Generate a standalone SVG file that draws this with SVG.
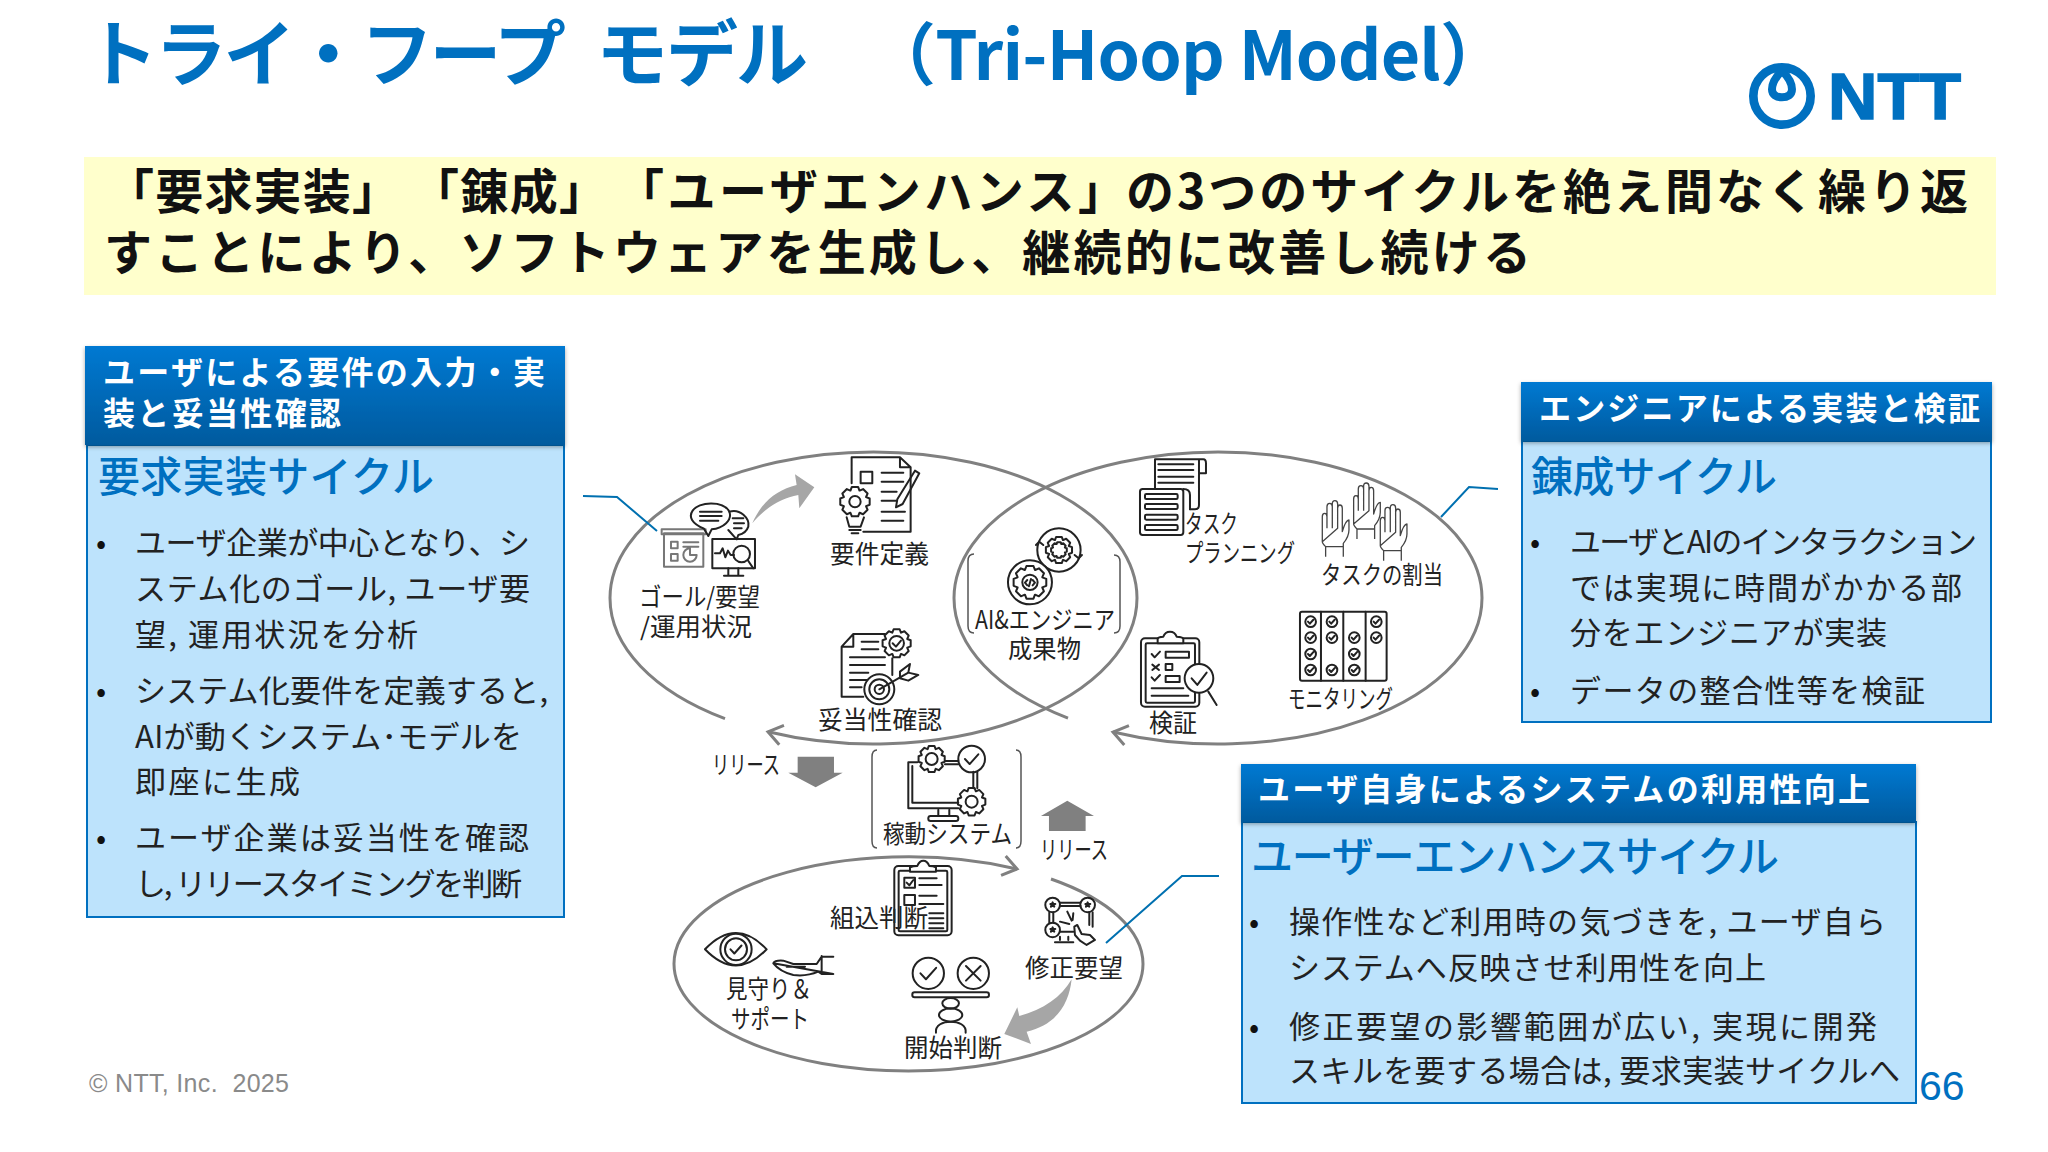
<svg xmlns="http://www.w3.org/2000/svg" width="2048" height="1152" viewBox="0 0 2048 1152">
<style>
text{font-family:"Noto Sans CJK JP","Noto Sans",sans-serif}
.t{font-weight:700;font-size:72px;fill:#0070C0}
.y{font-weight:700;font-size:48px;fill:#111}
.h{font-weight:700;font-size:32px;fill:#fff}
.c{font-weight:500;font-size:42px;fill:#0070C0}
.b{font-size:31px;fill:#222}
.d{font-size:30px;fill:#111}
.l{font-size:25px;fill:#222}
.body{fill:#BDE3FC;stroke:#0070C0;stroke-width:2}
.ell{fill:none;stroke:#808080;stroke-width:3}
.lead{fill:none;stroke:#0070B0;stroke-width:2}
.ic{fill:none;stroke:#222;stroke-width:2;stroke-linejoin:round;stroke-linecap:round}
.ic *{vector-effect:non-scaling-stroke}
.g1{fill:#808080}.g2{fill:#A6A6A6}
.br{fill:none;stroke:#555;stroke-width:1.5}
#gear,#ckc{fill:none;stroke:#222;stroke-width:2;vector-effect:non-scaling-stroke;stroke-linejoin:round}
#hand{fill:none;stroke:#444;stroke-width:1.3;vector-effect:non-scaling-stroke;stroke-linejoin:round}
</style>
<defs>
<linearGradient id="hg" x1="0" y1="0" x2="0" y2="1"><stop offset="0" stop-color="#0079D2"/><stop offset="1" stop-color="#005A9E"/></linearGradient>
<filter id="sh" x="-5%" y="-5%" width="110%" height="120%"><feDropShadow dx="0" dy="2" stdDeviation="2" flood-color="#000" flood-opacity=".35"/></filter>
<marker id="chev" markerUnits="userSpaceOnUse" markerWidth="30" markerHeight="30" refX="24" refY="15" orient="auto"><path d="M10 5L24 15L10 25" fill="none" stroke="#808080" stroke-width="3"/></marker>
<path id="gear" d="M-30-74L-21-98L21-98L30-74L31-74L54-84L84-54L74-31L74-30L98-21L98 21L74 30L74 31L84 54L54 84L31 74L30 74L21 98L-21 98L-30 74L-31 74L-54 84L-84 54L-74 31L-74 30L-98 21L-98-21L-74-30L-74-31L-84-54L-54-84L-31-74Z"/>
<path id="ckc" d="M0-100A100 100 0 1 1 0 100A100 100 0 1 1 0-100ZM-50 0L-15 38L50-35"/>
<path id="hand" d="M5 125V50Q5 40 12 40Q19 40 19 50V85M19 85V20Q19 10 27 10Q35 10 35 20V85M35 85V12Q35 2 43 2Q51 2 51 12V85M51 85V25Q51 15 58 15Q65 15 65 25V95Q75 60 85 60V90Q85 110 68 130V140H15Q5 130 5 125ZM15 140V170M68 140V170"/>
</defs>
<rect width="2048" height="1152" fill="#fff"/>

<g id="title">
<text class="t" x="86" y="80" textLength="480">トライ・フープ</text>
<text class="t" x="596" y="80" textLength="212">モデル</text>
<text class="t" x="868" y="80" textLength="640" style="font-size:68px">（Tri-Hoop Model）</text>
</g>
<g id="logo" transform="translate(1700,40) scale(.3333)">
<circle cx="246" cy="168" r="86" fill="none" stroke="#0070C0" stroke-width="26"/>
<path d="M246 92C226 112 216 130 216 148C216 165 230 172 246 172C262 172 276 165 276 148C276 130 266 112 246 92Z" fill="none" stroke="#0070C0" stroke-width="24"/>
</g>
<text id="logotext" x="1828" y="119" style="font-family:'Liberation Sans',sans-serif;font-weight:700;font-size:64px;fill:#0070C0;stroke:#0070C0;stroke-width:1.5" textLength="133" lengthAdjust="spacingAndGlyphs">NTT</text>

<g id="banner">
<rect x="84" y="157" width="1912" height="138" fill="#FFFFCC"/>
<text class="y" x="106" y="209" textLength="294">「要求実装」</text>
<text class="y" x="411" y="209" textLength="196">「錬成」</text>
<text class="y" x="616" y="209" textLength="510">「ユーザエンハンス」</text>
<text class="y" x="1126" y="209" textLength="842">の3つのサイクルを絶え間なく繰り返</text>
<text class="y" x="104" y="270" textLength="1427">すことにより、ソフトウェアを生成し、継続的に改善し続ける</text>
</g>

<g id="connectors">
<path class="ell" marker-end="url(#chev)" d="M725 718.6A263.5 146 0 0 1 610 598A263.5 146 0 0 1 1137 598A263.5 146 0 0 1 768 731.8"/>
<path class="ell" marker-end="url(#chev)" d="M1068 718.1A264 146 0 0 1 954 598A264 146 0 0 1 1482 598A264 146 0 0 1 1113 732"/>
<path class="ell" marker-end="url(#chev)" d="M1051 879A234.5 107 0 0 1 1143 964A234.5 107 0 0 1 674 964A234.5 107 0 0 1 1017 869"/>
<polyline class="lead" points="583,496 617,497 657,531"/>
<polyline class="lead" points="1441,517 1469,487 1498,489"/>
<polyline class="lead" points="1106,943 1182,876 1219,876"/>
<path class="g2" transform="translate(580,430) scale(.3333)" d="M517 280C545 215 590 180 650 165L645 133L703 172L658 235L655 195C600 205 555 235 517 280Z"/>
<path class="g2" transform="translate(660,730) scale(.3333)" d="M1235 748C1228 820 1190 885 1100 905L1113 942L1033 912L1072 832L1078 858C1150 840 1205 800 1235 748Z"/>
<path class="g1" transform="translate(660,730) scale(.3333)" d="M413 80H522V128H548L467 172L385 128H413Z"/>
<path class="g1" transform="translate(660,730) scale(.3333)" d="M1222 212L1302 258H1277V303H1167V258H1143Z"/>
<text class="l" x="712" y="774" textLength="68" lengthAdjust="spacingAndGlyphs">リリース</text>
<text class="l" x="1040" y="859" textLength="68" lengthAdjust="spacingAndGlyphs">リリース</text>
</g>

<g id="n-goal">
<g class="ic" transform="translate(580,430) scale(.3333)">
<g stroke="#777"><rect x="252" y="310" width="118" height="100"/><rect x="245" y="298" width="132" height="15"/><rect x="273" y="335" width="20" height="20"/><rect x="273" y="372" width="20" height="20"/><path d="M310 337H355M310 350H355M330 355A20 20 0 1 0 350 375H330Z"/></g>
<rect x="397" y="327" width="128" height="88"/><path d="M405 370L420 370L428 355L436 382L444 362L452 375H462M445 415V435M475 415V435M432 437H490"/>
<circle cx="485" cy="372" r="25"/><path d="M503 390L520 415"/>
<path d="M372 296C335 280 325 260 338 242C355 215 430 210 448 245C458 270 430 295 395 298L385 318Z"/><path d="M360 245H425M360 258H425M360 272H415"/>
<path d="M448 245C480 235 510 265 505 290C500 305 490 312 475 315L470 328L445 300"/><path d="M458 265H490M462 280H492M462 295H485"/>
</g>
<text class="l" x="639" y="606" textLength="121" lengthAdjust="spacingAndGlyphs">ゴール/要望</text>
<text class="l" x="640" y="636" textLength="112" lengthAdjust="spacingAndGlyphs">/運用状況</text>
</g>

<g id="n-req">
<g class="ic" transform="translate(580,430) scale(.3333)">
<path d="M815 160V82H960L992 112V305H850M960 82V112H992"/>
<rect x="842" y="125" width="35" height="35"/><path d="M905 128H970M905 155H970M905 185H950M905 212H950M905 245H975M905 272H970"/>
<path d="M1005 122L1018 130L968 222L948 232L952 208Z"/>
<use href="#gear" transform="translate(825,215) scale(.45)"/><circle cx="825" cy="215" r="17"/>
<path d="M800 262L808 290H842L852 262M808 300H842M815 310H835"/>
</g>
<text class="l" x="830" y="563" textLength="99" lengthAdjust="spacingAndGlyphs">要件定義</text>
</g>

<g id="n-valid">
<g class="ic" transform="translate(580,430) scale(.3333)">
<path d="M850 800H785V650L820 612H915M820 612V650H785"/>
<path d="M845 635H895M845 658H895M810 682H915M810 705H915M810 728H865M810 750H860M810 772H845M937 685V735"/>
<use href="#gear" transform="translate(950,640) scale(.43)"/><circle cx="950" cy="640" r="22"/><path d="M938 640L948 650L963 632"/>
<circle cx="898" cy="778" r="45"/><circle cx="898" cy="778" r="30"/><circle cx="898" cy="778" r="14"/>
<path d="M898 778L985 728M960 725L990 702L985 728L1015 735L985 752L960 745Z"/>
</g>
<text class="l" x="818" y="729" textLength="124" lengthAdjust="spacingAndGlyphs">妥当性確認</text>
</g>

<g id="n-ai">
<g class="ic" transform="translate(580,430) scale(.3333)">
<circle cx="1437" cy="360" r="65"/>
<use href="#gear" transform="translate(1437,360) scale(.4)"/><use href="#gear" transform="translate(1437,360) scale(.24)"/>
<path d="M1368 345L1378 335L1390 345M1506 375L1496 385L1484 375"/>
<circle cx="1350" cy="457" r="66" fill="#fff"/>
<use href="#gear" transform="translate(1350,457) scale(.5)"/><circle cx="1350" cy="457" r="23"/><path d="M1342 450L1335 458L1342 466M1358 450L1365 458L1358 466M1353 447L1347 469"/>
</g>
<path class="br" d="M974 554Q968 554 968 561V626Q968 633 974 633M1114 555Q1120 555 1120 562V626Q1120 633 1114 633"/>
<text class="l" x="975" y="629" textLength="140" lengthAdjust="spacingAndGlyphs">AI&amp;エンジニア</text>
<text class="l" x="1008" y="658" textLength="73" lengthAdjust="spacingAndGlyphs">成果物</text>
</g>

<g id="n-plan">
<g class="ic" transform="translate(1000,430) scale(.3333)">
<path d="M465 175V88H610Q618 88 618 100V130H597V225Q597 238 585 238H570M597 90V130"/><path d="M475 103H580M475 120H580M475 140H580M475 158H580"/>
<rect x="420" y="177" width="130" height="138" rx="8"/><rect x="435" y="192" width="98" height="15" rx="4"/><rect x="435" y="222" width="98" height="15" rx="4"/><rect x="435" y="254" width="98" height="15" rx="4"/><rect x="435" y="285" width="98" height="15" rx="4"/>
<path d="M550 177Q570 177 570 195V238"/>
</g>
<text class="l" x="1185" y="533" textLength="53" lengthAdjust="spacingAndGlyphs">タスク</text>
<text class="l" x="1185" y="562" textLength="110" lengthAdjust="spacingAndGlyphs">プランニング</text>
</g>

<g id="n-assign">
<g transform="translate(1000,430) scale(.3333)">
<use href="#hand" transform="translate(962,210)"/><use href="#hand" transform="translate(1056,157)"/><use href="#hand" transform="translate(1136,222)"/>
</g>
<text class="l" x="1321" y="584" textLength="122" lengthAdjust="spacingAndGlyphs">タスクの割当</text>
</g>

<g id="n-monitor">
<g class="ic" transform="translate(1000,430) scale(.3333)">
<rect x="900" y="545" width="260" height="207" rx="6"/><path d="M963 545V752M1030 545V752M1097 545V752"/>
<use href="#ckc" transform="translate(932,575) scale(.16)"/><use href="#ckc" transform="translate(932,623) scale(.16)"/><use href="#ckc" transform="translate(932,672) scale(.16)"/><use href="#ckc" transform="translate(932,720) scale(.16)"/>
<use href="#ckc" transform="translate(996,575) scale(.16)"/><use href="#ckc" transform="translate(996,623) scale(.16)"/><use href="#ckc" transform="translate(996,720) scale(.16)"/>
<use href="#ckc" transform="translate(1063,623) scale(.16)"/><use href="#ckc" transform="translate(1063,672) scale(.16)"/><use href="#ckc" transform="translate(1063,720) scale(.16)"/>
<use href="#ckc" transform="translate(1129,575) scale(.16)"/><use href="#ckc" transform="translate(1129,623) scale(.16)"/>
</g>
<text class="l" x="1288" y="708" textLength="105" lengthAdjust="spacingAndGlyphs">モニタリング</text>
</g>

<g id="n-verify">
<g class="ic" transform="translate(1000,430) scale(.3333)">
<rect x="423" y="625" width="175" height="205" rx="12"/><rect x="437" y="640" width="148" height="178" rx="4"/>
<path fill="#fff" d="M473 640V628Q473 620 490 620Q495 605 510 605Q525 605 530 620Q550 620 550 628V640Z"/>
<path d="M455 672L464 682L480 665M457 704L477 720M477 704L457 720M455 742L464 752L480 735M455 775H550M455 797H565"/>
<rect x="497" y="665" width="70" height="18"/><rect x="497" y="702" width="20" height="18"/><rect x="497" y="738" width="42" height="18"/>
<circle cx="597" cy="745" r="43" fill="#fff"/><path d="M575 745L592 765L620 728M625 785L650 825"/>
</g>
<text class="l" x="1149" y="732" textLength="48" lengthAdjust="spacingAndGlyphs">検証</text>
</g>

<g id="n-system">
<g class="ic" transform="translate(660,730) scale(.3333)">
<path d="M772 97H745V235H895M757 108V218H895M855 93H895M855 103H895M940 125V175M952 125V175M835 240V258M868 240V258"/>
<use href="#gear" transform="translate(815,87) scale(.4)"/><circle cx="815" cy="87" r="18"/>
<use href="#ckc" transform="translate(935,87) scale(.4)"/>
<use href="#gear" transform="translate(935,215) scale(.42)"/><circle cx="935" cy="215" r="18"/>
<rect x="805" y="258" width="90" height="15" rx="7"/>
</g>
<path class="br" d="M877 750Q872 750 872 757V841Q872 848 877 848M1016 750Q1021 750 1021 757V841Q1021 848 1016 848"/>
<text class="l" x="883" y="843" textLength="129" lengthAdjust="spacingAndGlyphs">稼動システム</text>
</g>

<g id="n-embed">
<g class="ic" transform="translate(660,730) scale(.3333)">
<rect x="703" y="408" width="172" height="208" rx="12"/><rect x="716" y="422" width="146" height="182" rx="4"/>
<path fill="#fff" d="M750 425V412Q760 408 772 408Q778 392 790 392Q802 392 808 408Q820 408 828 412V425Z"/>
<rect x="733" y="443" width="32" height="30"/><path d="M740 458L748 466L760 450M778 445H830M778 465H845"/>
<rect x="733" y="495" width="32" height="30"/><path d="M778 497H830M778 522H850M808 550H850M808 565H850M808 580H850M808 595H850"/>
</g>
<text class="l" x="830" y="927" textLength="98" lengthAdjust="spacingAndGlyphs">組込判断</text>
</g>

<g id="n-watch">
<g class="ic" transform="translate(660,730) scale(.3333)">
<path d="M135 658Q228 560 320 658Q228 755 135 658Z"/><circle cx="228" cy="658" r="47"/><use href="#ckc" transform="translate(228,658) scale(.33)"/>
<path d="M340 700Q345 690 370 692L400 702H470L485 680H520M520 732H485L475 725Q440 740 400 735Q360 725 340 700ZM485 678V732M380 710H435"/>
</g>
<text class="l" x="726" y="998" textLength="86" lengthAdjust="spacingAndGlyphs">見守り＆</text>
<text class="l" x="731" y="1028" textLength="78" lengthAdjust="spacingAndGlyphs">サポート</text>
</g>

<g id="n-start">
<g class="ic" transform="translate(660,730) scale(.3333)">
<use href="#ckc" transform="translate(805,730) scale(.47)"/><circle cx="940" cy="730" r="47"/><path d="M918 708L962 752M962 708L918 752"/>
<rect x="757" y="787" width="230" height="15" rx="7"/>
<ellipse cx="872" cy="820" rx="25" ry="16"/><ellipse cx="872" cy="855" rx="35" ry="20"/><path d="M828 908C825 885 850 875 872 875C895 875 920 885 917 908"/>
</g>
<text class="l" x="904" y="1057" textLength="98" lengthAdjust="spacingAndGlyphs">開始判断</text>
</g>

<g id="n-fix">
<g class="ic" transform="translate(660,730) scale(.3333)">
<circle cx="1178" cy="525" r="22"/><circle cx="1283" cy="525" r="22"/><circle cx="1178" cy="600" r="22"/>
<path d="M1178 517L1183 530L1171 522H1186L1173 530ZM1283 517L1288 530L1276 522H1291L1278 530ZM1178 592L1183 605L1171 597H1186L1173 605Z"/>
<path d="M1200 518H1262M1200 528H1262M1168 547V578M1180 547V578M1288 547V585M1298 547V590M1200 605H1240M1200 620V630M1225 620V630M1185 637H1240"/>
<path d="M1222 545L1235 572M1200 575L1228 582M1240 550L1238 570"/>
<path d="M1243 590L1252 585L1265 612L1290 615L1305 630L1280 645L1260 632L1245 615Z"/>
</g>
<text class="l" x="1025" y="977" textLength="98" lengthAdjust="spacingAndGlyphs">修正要望</text>
</g>

<g id="panel-left">
<rect class="body" x="87" y="445" width="477" height="472"/>
<rect x="85" y="346" width="480" height="99" fill="url(#hg)" filter="url(#sh)"/>
<text class="h" x="103" y="384" textLength="442">ユーザによる要件の入力・実</text>
<text class="h" x="103" y="425" textLength="238">装と妥当性確認</text>
<text class="c" x="98" y="492" textLength="336">要求実装サイクル</text>
<text class="d" x="96" y="554">•</text><text class="d" x="96" y="702">•</text><text class="d" x="96" y="849">•</text>
<text class="b" x="135" y="554" textLength="395">ユーザ企業が中心となり、シ</text>
<text class="b" x="135" y="600" textLength="395">ステム化のゴール, ユーザ要</text>
<text class="b" x="135" y="646" textLength="283">望, 運用状況を分析</text>
<text class="b" x="135" y="702" textLength="413">システム化要件を定義すると,</text>
<text class="b" x="135" y="748" textLength="387">AIが動くシステム･モデルを</text>
<text class="b" x="135" y="793" textLength="165">即座に生成</text>
<text class="b" x="135" y="849" textLength="394">ユーザ企業は妥当性を確認</text>
<text class="b" x="135" y="895" textLength="387">し, リリースタイミングを判断</text>
</g>

<g id="panel-right">
<rect class="body" x="1522" y="441" width="469" height="281"/>
<rect x="1521" y="382" width="471" height="59" fill="url(#hg)" filter="url(#sh)"/>
<text class="h" x="1539" y="420" textLength="441">エンジニアによる実装と検証</text>
<text class="c" x="1531" y="492" textLength="246">錬成サイクル</text>
<text class="d" x="1530" y="553">•</text><text class="d" x="1530" y="702">•</text>
<text class="b" x="1570" y="553" textLength="407">ユーザとAIのインタラクション</text>
<text class="b" x="1570" y="599" textLength="392">では実現に時間がかかる部</text>
<text class="b" x="1570" y="644" textLength="317">分をエンジニアが実装</text>
<text class="b" x="1570" y="702" textLength="355">データの整合性等を検証</text>
</g>

<g id="panel-bottom">
<rect class="body" x="1242" y="822" width="674" height="281"/>
<rect x="1241" y="764" width="675" height="58" fill="url(#hg)" filter="url(#sh)"/>
<text class="h" x="1258" y="801" textLength="612">ユーザ自身によるシステムの利用性向上</text>
<text class="c" x="1251" y="872" textLength="528">ユーザーエンハンスサイクル</text>
<text class="d" x="1249" y="933">•</text><text class="d" x="1249" y="1038">•</text>
<text class="b" x="1289" y="933" textLength="597">操作性など利用時の気づきを, ユーザ自ら</text>
<text class="b" x="1289" y="979" textLength="477">システムへ反映させ利用性を向上</text>
<text class="b" x="1289" y="1038" textLength="588">修正要望の影響範囲が広い, 実現に開発</text>
<text class="b" x="1289" y="1082" textLength="611">スキルを要する場合は, 要求実装サイクルへ</text>
</g>

<text id="footer" x="89" y="1092" style="font-family:'Liberation Sans',sans-serif;font-size:25px;fill:#8A8A8A" xml:space="preserve" textLength="200">© NTT, Inc.  2025</text>
<text id="page" x="1919" y="1100" style="font-family:'Liberation Sans',sans-serif;font-size:41px;fill:#0070C0">66</text>
</svg>
